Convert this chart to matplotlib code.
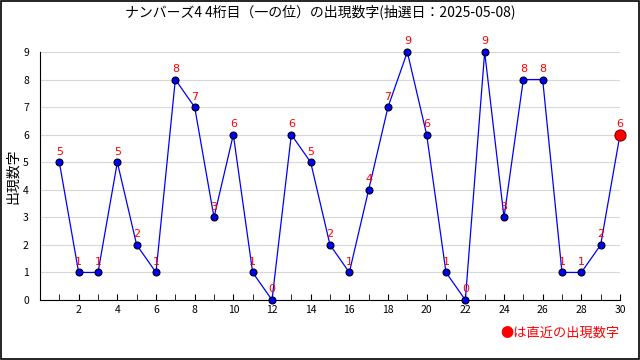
import matplotlib.pyplot as plt
import numpy as np

plt.rcParams['font.family'] = ['Noto Sans CJK JP', 'DejaVu Sans']

# draws 1..30, 4th digit
draws = list(range(1, 31))
digits = [5, 1, 1, 5, 2, 1, 8, 7, 3, 6, 1, 0, 6, 5, 2, 1, 4, 7, 9, 6,
          1, 0, 9, 3, 8, 8, 1, 1, 2, 6]
title = 'ナンバーズ4 4桁目（一の位）の出現数字(抽選日：2025-05-08)'

fig = plt.figure(figsize=(6.4, 3.6), dpi=100)
ax = fig.add_axes([40/640, 1-300/360, 580/640, 248/360])

ax.plot(draws, digits, color='#0000ff', lw=0.9, marker='o', ms=5,
        mfc='#0000ff', mec='black', mew=0.8, clip_on=False, zorder=3)
ax.plot(draws[-1], digits[-1], 'o', ms=8, mfc='#ff0000', mec='#800000',
        mew=0.8, clip_on=False, zorder=4)
for x, y in zip(draws, digits):
    ax.text(x, y + 0.2, str(y), color='#ff0000', ha='center', va='bottom',
            fontsize=8, family='DejaVu Sans', clip_on=False, zorder=5)

ax.set_xlim(0, 30)
ax.set_ylim(0, 9)
ax.set_xticks(range(2, 31, 2))
ax.set_xticks(range(1, 31), minor=True)
ax.set_yticks(range(0, 10))
ax.tick_params(axis='x', which='both', direction='in', length=4, labelsize=7.5)
ax.tick_params(axis='y', length=0, labelsize=7.5, pad=8)
ax.grid(axis='y', color='#d8d8d8', lw=0.8)
ax.set_axisbelow(True)
for s in ['top', 'right']:
    ax.spines[s].set_visible(False)
ax.yaxis.set_label_coords(-20/580, 0.5)
ax.set_ylabel('出現数字', fontsize=10)

fig.text(0.5, 1-12/360, title, ha='center', va='center', fontsize=10)
fig.text(620/640, 1-333/360, '●は直近の出現数字', color='#ff0000',
         ha='right', va='center', fontsize=9.5)

fig.patches.append(plt.Rectangle((0.001, 0.002), 0.997, 0.995, transform=fig.transFigure,
                                 fill=False, ec='black', lw=1.2))
fig.savefig('out.png', dpi=100)
